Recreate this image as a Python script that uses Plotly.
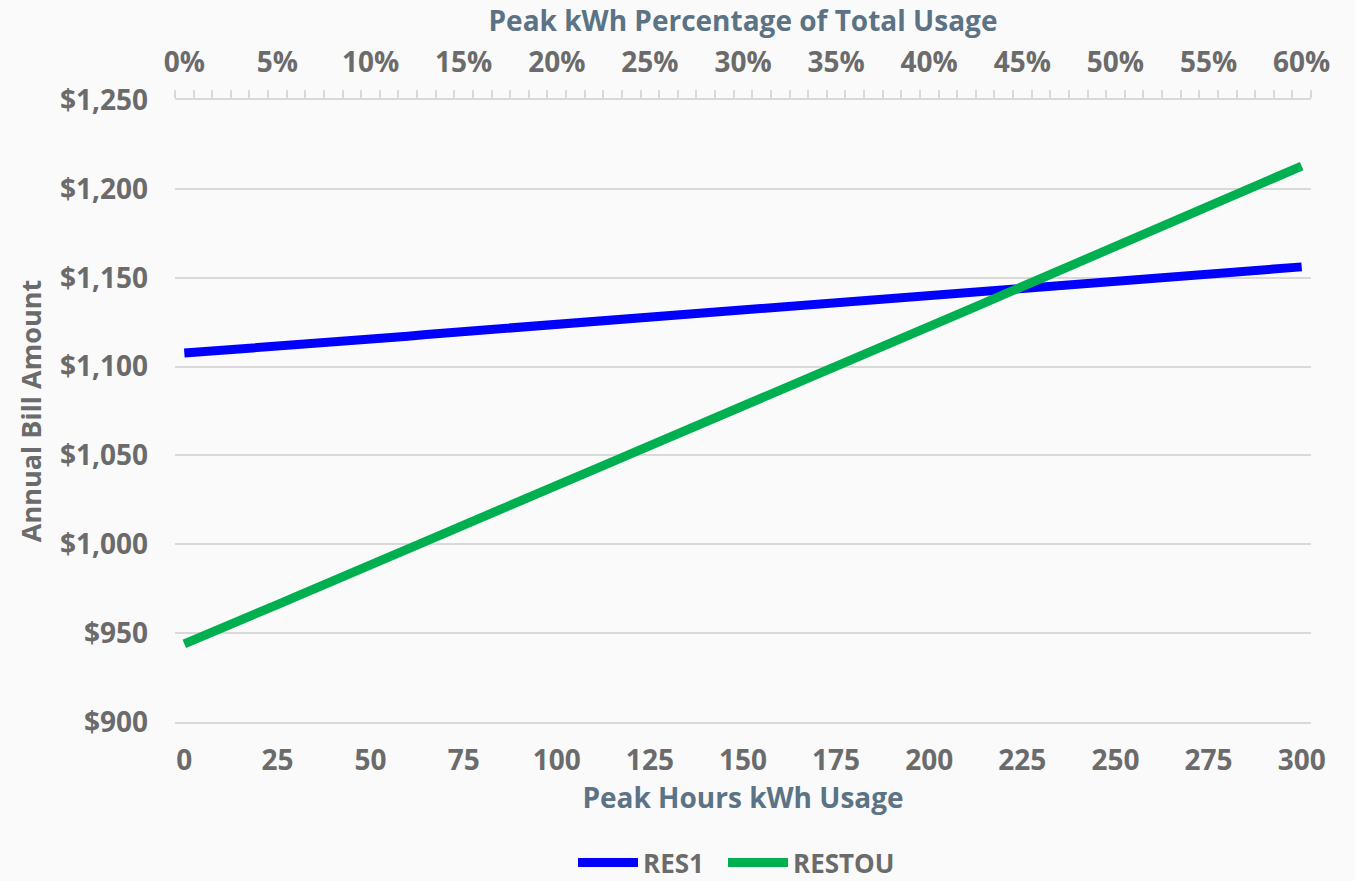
import plotly.graph_objects as go

# ---- data ----
peak_kwh = list(range(0, 301, 5))  # 61 categories, 0..300 kWh
pct_ticks = list(range(0, 61, 5))
pct_ticktext = [f"{p}%" for p in pct_ticks]
kwh_ticks = list(range(0, 301, 25))
y_ticks = list(range(900, 1251, 50))
y_ticktext = [f"${v:,}" for v in y_ticks]

res1 = [1107.6, 1108.3, 1109.0, 1109.9, 1110.9, 1111.6, 1112.3, 1113.1, 1113.9, 1114.7,
        1115.5, 1116.3, 1117.1, 1118.1, 1118.9, 1119.7, 1120.4, 1121.2, 1122.0, 1122.8,
        1123.6, 1124.6, 1125.4, 1126.1, 1126.9, 1127.7, 1128.5, 1129.3, 1130.1, 1131.0,
        1131.9, 1132.7, 1133.4, 1134.2, 1135.0, 1135.8, 1136.6, 1137.5, 1138.4, 1139.2,
        1140.0, 1140.8, 1141.6, 1142.4, 1143.2, 1144.0, 1144.8, 1145.7, 1146.6, 1147.3,
        1148.1, 1148.9, 1149.7, 1150.5, 1151.3, 1152.2, 1153.1, 1153.9, 1154.6, 1155.3,
        1156.1]

restou = [944.0, 948.2, 952.6, 957.0, 961.5, 966.1, 970.6, 974.9, 979.4, 983.8,
          988.5, 992.9, 997.2, 1001.6, 1006.3, 1010.8, 1015.1, 1019.6, 1024.2, 1028.6,
          1033.1, 1037.5, 1041.9, 1046.5, 1051.0, 1055.4, 1059.9, 1064.5, 1068.9, 1073.3,
          1077.8, 1082.4, 1086.8, 1091.2, 1095.7, 1100.2, 1104.7, 1109.2, 1113.6, 1118.1,
          1122.6, 1127.0, 1131.5, 1136.0, 1140.5, 1145.0, 1149.5, 1153.9, 1158.4, 1162.9,
          1167.4, 1171.8, 1176.3, 1180.8, 1185.2, 1189.7, 1194.1, 1198.6, 1203.1, 1207.6,
          1212.8]

pct_of_total = [k / 5 for k in peak_kwh]  # 0..60 (%), one per category

# ---- style ----
FONT = "Open Sans"
TICK_COLOR = "#6b6b6b"
TITLE_COLOR = "#5b7385"
GRID = "#d9d9d9"
BG = "#fafafa"
TICKFONT = dict(size=28, color=TICK_COLOR, family=FONT, weight="bold")
TITLEFONT = dict(size=28, color=TITLE_COLOR, family=FONT, weight="bold")

fig = go.Figure()
fig.add_trace(go.Scatter(x=peak_kwh, y=res1, mode="lines", name="RES1",
                         legendwidth=75,
                         line=dict(color="#0000ff", width=9)))
fig.add_trace(go.Scatter(x=peak_kwh, y=restou, mode="lines", name="RESTOU",
                         legendwidth=115,
                         line=dict(color="#00b050", width=9)))
# invisible trace to activate the secondary (top) axis
fig.add_trace(go.Scatter(x=pct_of_total, y=restou, xaxis="x2", mode="lines",
                         opacity=0, showlegend=False, hoverinfo="skip",
                         line=dict(width=0)))

fig.update_layout(
    width=1355, height=881,
    paper_bgcolor=BG, plot_bgcolor=BG,
    margin=dict(l=175, r=44, t=100, b=159, autoexpand=False),
    font=dict(family=FONT, color=TICK_COLOR, size=24, weight="bold"),
    xaxis=dict(
        range=[-2.5, 302.5], tickvals=kwh_ticks, showgrid=False, zeroline=False,
        showline=True, linecolor=GRID, linewidth=2, ticks="",
        ticklabelstandoff=12, automargin=False,
        tickfont=TICKFONT,
        title=dict(text="Peak Hours kWh Usage", standoff=12, font=TITLEFONT),
    ),
    xaxis2=dict(
        overlaying="x", side="top", anchor="y", range=[-0.5, 60.5],
        tickvals=pct_ticks, ticktext=pct_ticktext, showgrid=False, zeroline=False,
        showline=True, linecolor=GRID, linewidth=2, ticks="",
        ticklabelstandoff=15, automargin=False,
        minor=dict(ticks="outside", tick0=-0.5, dtick=1, ticklen=8,
                   tickcolor=GRID, tickwidth=2, showgrid=False),
        tickfont=TICKFONT,
        title=dict(text="Peak kWh Percentage of Total Usage", standoff=2, font=TITLEFONT),
    ),
    yaxis=dict(
        range=[900, 1250], tickvals=y_ticks, ticktext=y_ticktext,
        showgrid=True, gridcolor=GRID, gridwidth=2, zeroline=False, showline=False,
        ticks="", ticklabelstandoff=26, automargin=False,
        tickfont=TICKFONT,
        title=dict(text="Annual Bill Amount", standoff=10,
                   font=dict(size=27, color=TICK_COLOR, family=FONT, weight="bold")),
    ),
    legend=dict(orientation="h", x=0.5, xanchor="center", y=-0.226, yanchor="middle",
                font=dict(size=26, color=TICK_COLOR, family=FONT, weight="bold"),
                bgcolor="rgba(0,0,0,0)", itemwidth=60, tracegroupgap=0),
    showlegend=True,
)

fig.write_html("out.html", config={"displayModeBar": False},
               post_script="document.body.style.margin='0';document.body.style.background='#fafafa';")
